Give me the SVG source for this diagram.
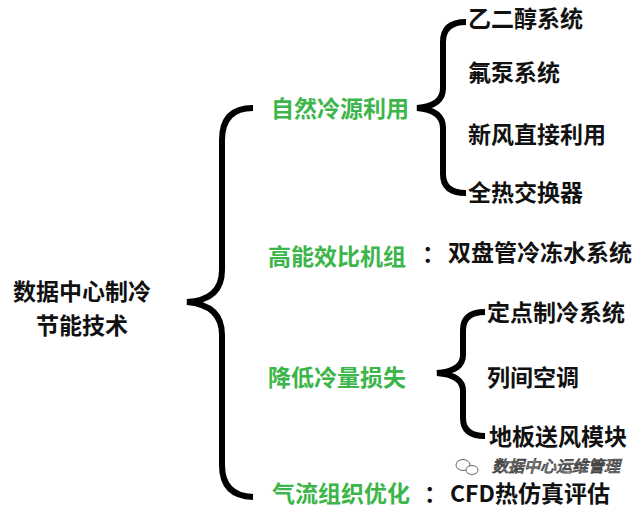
<svg xmlns="http://www.w3.org/2000/svg" width="640" height="508" viewBox="0 0 640 508">
<style>
.t{font-family:"Noto Sans CJK SC","Noto Sans",sans-serif;font-size:23px;font-weight:bold;fill:#111}
.g{fill:#3cb54a}
.br{fill:none;stroke:#000;stroke-width:6}
.wm{font-family:"Noto Sans CJK SC",sans-serif;font-size:16px;fill:#fff;stroke:#444;stroke-width:0.9;font-style:italic}
</style>
<rect width="640" height="508" fill="#fff"/>
<g id="connectors">
<path class="br" d="M253,108 Q222,108 222,140 L222,270 Q222,300 187,302 Q222,305 222,335 L222,465 Q222,496 253,497"/>
<path class="br" d="M466,22 Q443,22 443,42 L443,88 Q443,106 417,108 Q443,110 443,128 L443,174 Q443,193 466,193"/>
<path class="br" d="M485,312 Q463,312 463,330 L463,355 Q463,371 437,373 Q463,375 463,391 L463,418 Q463,436 485,436"/>
</g>
<g id="root"><text class="t" x="82" y="300" text-anchor="middle">数据中心制冷</text><text class="t" x="82" y="334" text-anchor="middle">节能技术</text></g>
<g id="n1"><text class="t g" x="271" y="117">自然冷源利用</text></g>
<g id="n2"><text class="t g" x="268" y="265">高能效比机组</text><text class="t" x="422" y="262">：</text><text class="t" x="448" y="261">双盘管冷冻水系统</text></g>
<g id="n3"><text class="t g" x="268" y="386">降低冷量损失</text></g>
<g id="n4"><text class="t g" x="272" y="502">气流组织优化</text><text class="t" x="424" y="502">：</text><text class="t" x="450" y="502">CFD热仿真评估</text></g>
<g id="c1"><text class="t" x="468" y="27">乙二醇系统</text></g>
<g id="c2"><text class="t" x="468" y="81">氟泵系统</text></g>
<g id="c3"><text class="t" x="468" y="143">新风直接利用</text></g>
<g id="c4"><text class="t" x="468" y="201">全热交换器</text></g>
<g id="c5"><text class="t" x="487" y="321">定点制冷系统</text></g>
<g id="c6"><text class="t" x="487" y="386">列间空调</text></g>
<g id="c7"><text class="t" x="489" y="445">地板送风模块</text></g>
<g id="watermark">
<ellipse cx="463" cy="465" rx="7" ry="5.5" fill="#fff" stroke="#555" stroke-width="0.9"/>
<ellipse cx="472" cy="470" rx="6" ry="4.5" fill="#fff" stroke="#555" stroke-width="0.9"/>
<text class="wm" x="492" y="472">数据中心运维管理</text>
</g>
</svg>
